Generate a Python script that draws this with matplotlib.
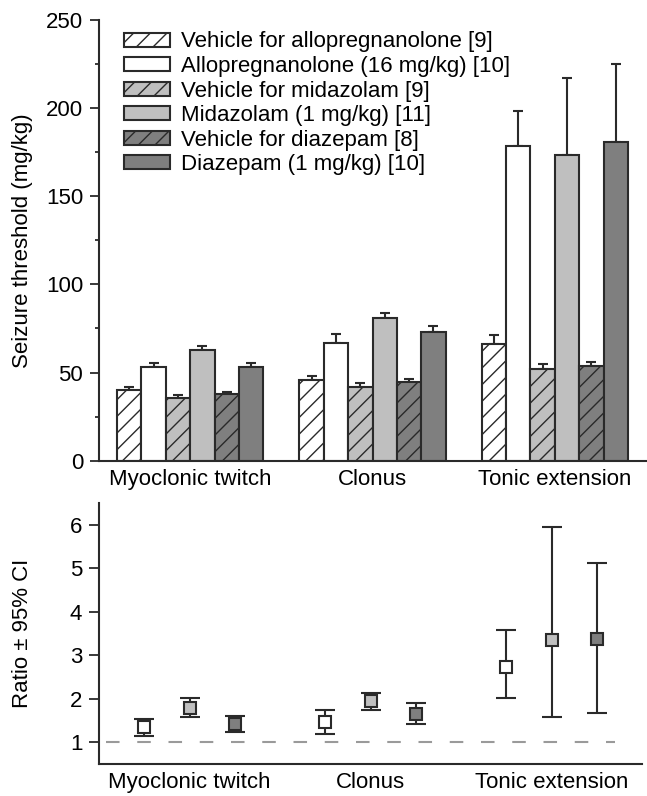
import matplotlib
matplotlib.use("Agg")
import matplotlib.pyplot as plt
import numpy as np
from matplotlib.ticker import MultipleLocator

plt.rcParams['font.family'] = ['Liberation Sans', 'DejaVu Sans']
plt.rcParams['hatch.linewidth'] = 1.0

# ---------------- data ----------------
categories = ["Myoclonic twitch", "Clonus", "Tonic extension"]
series_labels = ["Vehicle for allopregnanolone [9]",
                 "Allopregnanolone (16 mg/kg) [10]",
                 "Vehicle for midazolam [9]",
                 "Midazolam (1 mg/kg) [11]",
                 "Vehicle for diazepam [8]",
                 "Diazepam (1 mg/kg) [10]"]
veh_allo = [40, 46, 66]
veh_allo_err = [1.7, 2.3, 5.5]
allo = [53, 66.5, 178.5]
allo_err = [2.5, 5.1, 20]
veh_midaz = [35.3, 42, 52]
veh_midaz_err = [1.7, 1.9, 3]
midaz = [63, 81, 173.5]
midaz_err = [1.9, 2.8, 43.8]
veh_diaz = [37.8, 44.6, 54]
veh_diaz_err = [1.3, 1.9, 2]
diaz = [53, 73, 181]
diaz_err = [2.5, 3.6, 44]

ratio_allo = [1.345, 1.46, 2.73]
ratio_allo_lo = [1.15, 1.18, 2.01]
ratio_allo_hi = [1.54, 1.74, 3.58]
ratio_midaz = [1.79, 1.94, 3.35]
ratio_midaz_lo = [1.575, 1.74, 1.575]
ratio_midaz_hi = [2.03, 2.14, 5.95]
ratio_diaz = [1.41, 1.65, 3.38]
ratio_diaz_lo = [1.23, 1.43, 1.67]
ratio_diaz_hi = [1.60, 1.90, 5.13]

# ---------------- style ----------------
EDGE = '#2a2a2a'
LIGHT = '#bfbfbf'
DARK = '#7f7f7f'
FS = 16

fig = plt.figure(figsize=(6.47, 7.96), dpi=100)
W = 647.0
H = 796.0
ax1 = fig.add_axes([99 / W, 1 - 460.7 / H, 547 / W, (460.7 - 20) / H])
ax2 = fig.add_axes([99 / W, 1 - 764 / H, 543 / W, (764 - 503.3) / H])

x = np.arange(len(categories))
bw = 24.3 / 182
bar_vals = [veh_allo, allo, veh_midaz, midaz, veh_diaz, diaz]
bar_errs = [veh_allo_err, allo_err, veh_midaz_err, midaz_err, veh_diaz_err, diaz_err]
faces = ['white', 'white', LIGHT, LIGHT, DARK, DARK]
hatches = ['//', None, '//', None, '//', None]

for j, (vals, errs) in enumerate(zip(bar_vals, bar_errs)):
    xs = x + (j - 2.5) * bw
    ax1.bar(xs, vals, width=bw, color=faces[j], edgecolor=EDGE, linewidth=1.5,
            hatch=hatches[j], label=series_labels[j], zorder=2)
    ax1.errorbar(xs, vals, yerr=[np.zeros(len(errs)), errs], fmt='none',
                 ecolor=EDGE, elinewidth=1.5, capsize=3.8, capthick=1.5, zorder=1)

ax1.set_xlim(-0.5, 2.5)
ax1.set_ylim(0, 250)
ax1.yaxis.set_major_locator(MultipleLocator(50))
ax1.yaxis.set_minor_locator(MultipleLocator(25))
ax1.set_xticks(x)
ax1.set_xticklabels(categories, fontsize=FS)
ax1.tick_params(axis='x', length=0, pad=6)
ax1.tick_params(axis='y', which='major', length=6.5, width=1.3, color=EDGE, labelsize=FS, pad=5)
ax1.tick_params(axis='y', which='minor', length=3, width=1.3, color=EDGE)
ax1.set_ylabel("Seizure threshold (mg/kg)", fontsize=FS)
ax1.yaxis.set_label_coords(-0.121, 0.5)
for s in ['top', 'right']:
    ax1.spines[s].set_visible(False)
for s in ['left', 'bottom']:
    ax1.spines[s].set_linewidth(1.5)
    ax1.spines[s].set_color(EDGE)

ax1.legend(loc='upper left', bbox_to_anchor=(0.046, 0.974), frameon=False,
           fontsize=FS, borderpad=0, borderaxespad=0, labelspacing=0.16,
           handlelength=2.05, handleheight=0.6, handletextpad=0.5)

# ---------------- bottom panel ----------------
pts = [(ratio_allo, ratio_allo_lo, ratio_allo_hi, 'white'),
       (ratio_midaz, ratio_midaz_lo, ratio_midaz_hi, LIGHT),
       (ratio_diaz, ratio_diaz_lo, ratio_diaz_hi, DARK)]
ax2.hlines(1, -0.46, 2.35, colors='#9a9a9a', linestyles=(0, (6.5, 8.5)), linewidth=1.5, zorder=1)
for k, (v, lo, hi, fc) in enumerate(pts):
    xs = x + (k - 1) * 0.25
    v = np.array(v)
    ax2.errorbar(xs, v, yerr=[v - np.array(lo), np.array(hi) - v], fmt='s',
                 mfc=fc, mec=EDGE, mew=1.5, ms=8, ecolor=EDGE, elinewidth=1.5,
                 capsize=7, capthick=1.5, zorder=3)

ax2.set_xlim(-0.5, 2.5)
ax2.set_ylim(0.5, 6.5)
ax2.set_yticks([1, 2, 3, 4, 5, 6])
ax2.set_xticks(x)
ax2.set_xticklabels(categories, fontsize=FS)
ax2.tick_params(axis='x', length=0, pad=6)
ax2.tick_params(axis='y', length=7, width=1.3, color=EDGE, labelsize=FS, pad=5)
ax2.set_ylabel("Ratio \u00b1 95% CI", fontsize=FS)
ax2.yaxis.set_label_coords(-0.1215, 0.5)
for s in ['top', 'right']:
    ax2.spines[s].set_visible(False)
for s in ['left', 'bottom']:
    ax2.spines[s].set_linewidth(1.5)
    ax2.spines[s].set_color(EDGE)

fig.savefig("out.png", dpi=100)
